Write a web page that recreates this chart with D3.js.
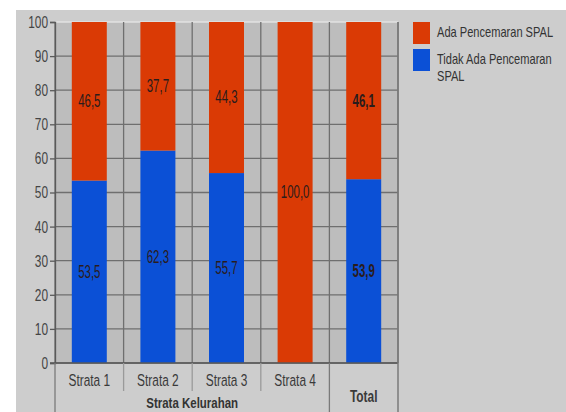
<!DOCTYPE html>
<html><head><meta charset="utf-8">
<script src="https://cdn.jsdelivr.net/npm/d3@7"></script>
<style>
html,body{margin:0;padding:0;background:#fff;}
svg text{font-family:"Liberation Sans",Arial,sans-serif;}
</style></head>
<body>
<svg id="c" width="566" height="412"></svg>
<script>
const categories = ["Strata 1","Strata 2","Strata 3","Strata 4","Total"];
const tidakAda = [53.5, 62.3, 55.7, 0, 53.9];
const ada = [46.5, 37.7, 44.3, 100.0, 46.1];
const seriesNames = ["Ada Pencemaran SPAL","Tidak Ada Pencemaran SPAL"];
const yTicks = [0,10,20,30,40,50,60,70,80,90,100];
const xAxisTitle = "Strata Kelurahan";

const colors = {ada:"#da3a05", tidak:"#0b50d6"};
const svg = d3.select("#c");
const W = 566, H = 412;
const L = 55, R = 398, T = 22, B = 363;
const SX = 0.82;

// narrow text helper
function ntext(g, px, py, str, size, opts={}){
  const sy = opts.sy || 1.18;
  return g.append("text")
    .attr("transform",`translate(${px},${py}) scale(${SX},${sy})`)
    .attr("text-anchor",opts.anchor||"middle")
    .attr("dominant-baseline",opts.baseline||"central")
    .attr("font-size",size)
    .attr("font-weight",opts.bold?"bold":"normal")
    .attr("fill",opts.fill||"#333")
    .text(str);
}

// panel
svg.append("rect").attr("x",16).attr("y",10).attr("width",W-16).attr("height",H-10).attr("fill","#cdcdcd");
// plot background
svg.append("rect").attr("x",L).attr("y",T).attr("width",R-L).attr("height",B-T).attr("fill","#bdbdbd");

const x = d3.scaleBand().domain(categories).range([L,R]).paddingInner(0.49).paddingOuter(0.245);
const y = d3.scaleLinear().domain([0,100]).range([B,T]);
const step = x.step();
const bound = c => x(c) + x.bandwidth()/2 - step/2;

// horizontal grid
svg.append("g").selectAll("line").data(yTicks).join("line")
  .attr("x1",L).attr("x2",R).attr("y1",d=>y(d)).attr("y2",d=>y(d))
  .attr("stroke",d=>d===100?"#e2e2e2":"#6f6f6f").attr("stroke-width",1.3);
// vertical grid
const vb = categories.map(bound).concat([R]);
svg.append("g").selectAll("line").data(vb).join("line")
  .attr("x1",d=>d).attr("x2",d=>d).attr("y1",T).attr("y2",B)
  .attr("stroke","#6f6f6f").attr("stroke-width",1.3);

// stacked bars
const rows = categories.map((c,i)=>({cat:c, tidak:tidakAda[i], ada:ada[i]}));
const stack = d3.stack().keys(["tidak","ada"])(rows);
const fmt = v => d3.format(".1f")(v).replace(".",",");
stack.forEach(layer=>{
  const g = svg.append("g");
  g.selectAll("rect").data(layer).join("rect")
    .attr("x",d=>x(d.data.cat)).attr("width",x.bandwidth())
    .attr("y",d=>y(d[1])).attr("height",d=>y(d[0])-y(d[1]))
    .attr("fill",colors[layer.key]);
  layer.filter(d=>d[1]-d[0]>0).forEach(d=>{
    ntext(g, x(d.data.cat)+x.bandwidth()/2, y((d[0]+d[1])/2), fmt(d[1]-d[0]), 14,
      {bold:d.data.cat==="Total", fill:"#2a1c1c", sy:1.25});
  });
});

// y axis
const ya = svg.append("g").attr("transform",`translate(${L},0)`)
  .call(d3.axisLeft(y).tickValues(yTicks).tickSize(5).tickPadding(2));
ya.select(".domain").attr("stroke","#5a5a5a").attr("stroke-width",1.3);
ya.selectAll(".tick line").attr("stroke","#5a5a5a").attr("stroke-width",1.3);
ya.selectAll(".tick text").attr("font-size",14.5).attr("fill","#444")
  .attr("font-family",null)
  .attr("transform",`scale(${SX},1.18)`)
  .attr("y",0)
  .attr("dy","0.32em")
  .attr("x", -7/SX);

// x axis line
svg.append("line").attr("x1",L-5).attr("x2",R).attr("y1",B).attr("y2",B)
  .attr("stroke","#5a5a5a").attr("stroke-width",1.5);
// x category separators
categories.forEach((c,i)=>{
  const bx = bound(c);
  const long = (i===0 || c==="Total");
  svg.append("line").attr("x1",bx).attr("x2",bx).attr("y1",B).attr("y2",long?H:391)
    .attr("stroke",long?"#7a7a7a":"#9a9a9a").attr("stroke-width",1.3);
});
svg.append("line").attr("x1",R).attr("x2",R).attr("y1",T).attr("y2",H)
  .attr("stroke","#7a7a7a").attr("stroke-width",1.5);

// x labels
const xl = svg.append("g");
categories.forEach(c=>{
  ntext(xl, x(c)+x.bandwidth()/2, c==="Total"?396:380, c, 14.5, {bold:c==="Total", fill:"#3a3a3a"});
});
// axis title
ntext(svg, (bound(categories[0])+bound("Total"))/2, 408, xAxisTitle, 14, {bold:true, fill:"#333", baseline:"auto", sy:1.1});

// legend
const lg = svg.append("g");
const legendItems = [{name:seriesNames[0], color:colors.ada, lines:["Ada Pencemaran SPAL"]},
                     {name:seriesNames[1], color:colors.tidak, lines:["Tidak Ada Pencemaran","SPAL"]}];
legendItems.forEach((it,i)=>{
  const yy = 22 + i*27;
  lg.append("rect").attr("x",413).attr("y",yy).attr("width",17).attr("height",22).attr("fill",it.color);
  it.lines.forEach((ln,j)=>ntext(lg, 437, yy+10+j*17, ln, 13.5, {anchor:"start", fill:"#333", sy:1.12}));
});
</script>
</body></html>
